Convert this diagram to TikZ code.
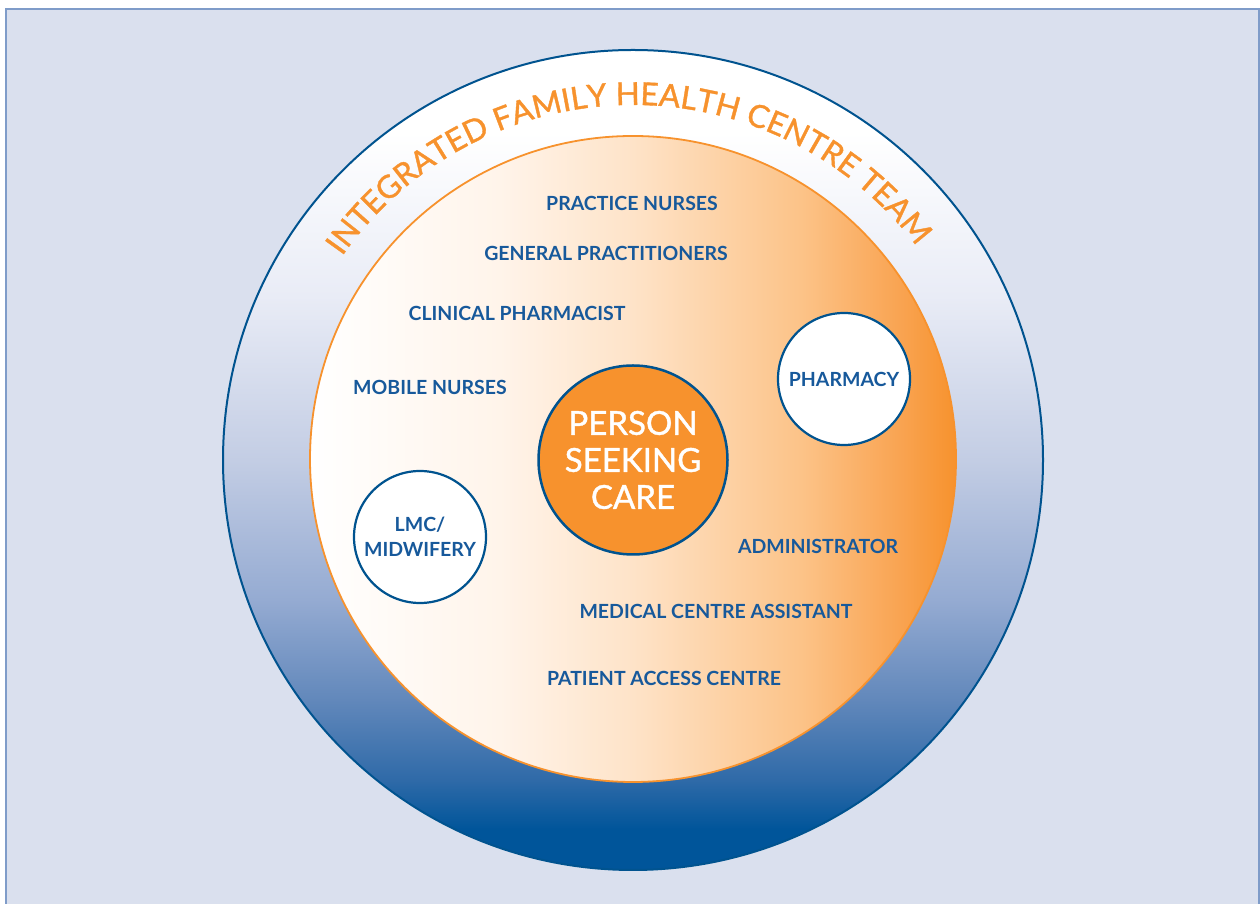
\documentclass[tikz,border=0pt]{standalone}
\usepackage{fontspec}
\setmainfont{Lato}
\newfontfamily\heavyfont{Lato}[FakeBold=1.2]
\usetikzlibrary{decorations.text}
\definecolor{bgblue}{HTML}{DAE0EE}
\definecolor{framecol}{HTML}{7F9CC9}
\definecolor{ringdark}{HTML}{00559A}
\definecolor{ringline}{HTML}{00538F}
\definecolor{rA}{HTML}{2F6AA8}
\definecolor{rB}{HTML}{6288BB}
\definecolor{rC}{HTML}{95ABD2}
\definecolor{rD}{HTML}{C3CDE4}
\definecolor{rE}{HTML}{E9ECF6}
\definecolor{orng}{HTML}{F7922D}
\definecolor{iA}{HTML}{FFF4EA}
\definecolor{iB}{HTML}{FEE3C8}
\definecolor{iC}{HTML}{FCC388}
\definecolor{iD}{HTML}{F9A452}
\definecolor{txtblue}{HTML}{17599B}
\pgfdeclareverticalshading{ringshade}{100bp}{color(0bp)=(ringdark); color(25bp)=(ringdark); color(27.5bp)=(ringdark); color(30.5bp)=(rA); color(35.4bp)=(rB); color(41.5bp)=(rC); color(50bp)=(rD); color(60bp)=(rE); color(70bp)=(white); color(100bp)=(white)}
\pgfdeclarehorizontalshading{innershade}{100bp}{color(0bp)=(white); color(25bp)=(white); color(39.7bp)=(iA); color(50bp)=(iB); color(63bp)=(iC); color(70.6bp)=(iD); color(75bp)=(orng); color(100bp)=(orng)}
\tikzset{
  lbl/.style={text=txtblue, font=\bfseries\fontsize{19.5}{25}\selectfont, inner sep=0pt, align=center},
  smallcirc/.style={circle, minimum size=132pt, fill=white, draw=ringline, line width=2.2pt, inner sep=0pt},
}
\begin{document}
\begin{tikzpicture}[x=1pt,y=1pt]
\useasboundingbox (0,0) rectangle (1260,904);
\fill[white] (0,0) rectangle (1260,904);
\fill[bgblue] (6,0) rectangle (1259,895);
\draw[framecol, line width=1.2pt] (6,0) -- (6,895) -- (1259,895) -- (1259,0);

\node[circle, minimum size=820pt, inner sep=0pt, draw=ringline, line width=2pt, shade, shading=ringshade] (outer) at (633,444) {};
\node[circle, minimum size=646pt, inner sep=0pt, draw=orng, line width=1.8pt, shade, shading=innershade] (inner) at (633,445) {};

\path[decorate, decoration={text along path, text align=center,
  text={|\heavyfont\fontsize{31.5}{32}\selectfont\color{orng}|INTEGRATED FAMILY HEALTH CENTRE TEAM}}]
  (outer.center) ++(156:355) arc[start angle=156, end angle=26, radius=355];

\node[circle, minimum size=189pt, inner sep=0pt, fill=orng, draw=ringline, line width=2.5pt, text=white, font=\heavyfont\fontsize{33}{37}\selectfont, align=center] (person) at (633,444) {PERSON\\SEEKING\\CARE};

\node[smallcirc] (pharmcirc) at (844,525) {};
\node[lbl] (pharm) at (pharmcirc.center) {PHARMACY};
\node[smallcirc] (lmccirc) at (420,367) {};
\node[lbl] (lmc) at (lmccirc.center) {LMC/\\MIDWIFERY};

\node[lbl] (pn) at (632,701) {PRACTICE NURSES};
\node[lbl] (gp) at (606,651) {GENERAL PRACTITIONERS};
\node[lbl] (cp) at (517,591) {CLINICAL PHARMACIST};
\node[lbl] (mn) at (430,517) {MOBILE NURSES};
\node[lbl] (adm) at (818,358) {ADMINISTRATOR};
\node[lbl] (mca) at (716,293) {MEDICAL CENTRE ASSISTANT};
\node[lbl] (pac) at (664,226) {PATIENT ACCESS CENTRE};
\end{tikzpicture}
\end{document}
